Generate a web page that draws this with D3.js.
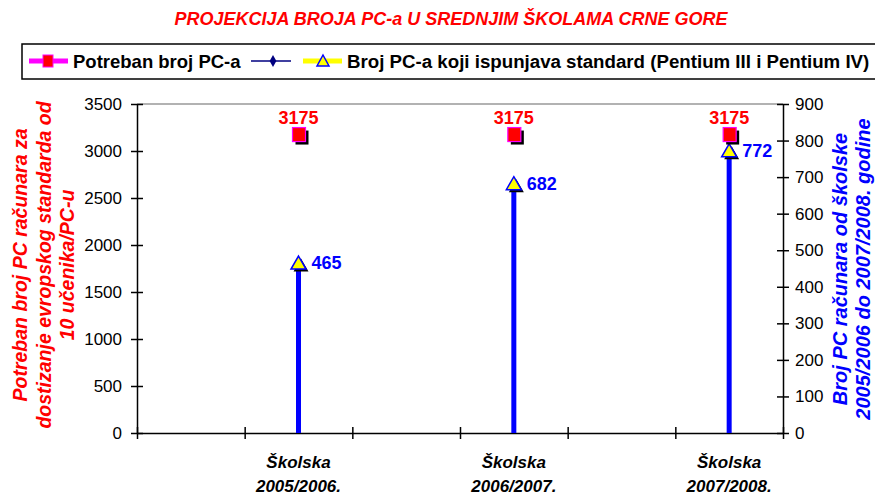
<!DOCTYPE html>
<html>
<head>
<meta charset="utf-8">
<script src="https://cdn.jsdelivr.net/npm/d3@7"></script>
<style>
  body { margin: 0; background: #fff; }
  text { font-family: "Liberation Sans", Arial, sans-serif; }
</style>
</head>
<body>
<svg id="chart" width="875" height="496"></svg>
<script>
/* Projection of PCs in Montenegrin secondary schools.
   Six slots on the category axis, only every second one holds a school year. */
const categories = ['', 'Školska 2005/2006.', '', 'Školska 2006/2007.', '', 'Školska 2007/2008.'];
const requiredPCs = [null, 3175, null, 3175, null, 3175];   // left axis
const standardPCs = [null, 465, null, 682, null, 772];      // right axis
const leftTicks = [0, 500, 1000, 1500, 2000, 2500, 3000, 3500];
const rightTicks = [0, 100, 200, 300, 400, 500, 600, 700, 800, 900];

const plot = {left: 137, right: 783, top: 104, bottom: 433};
const colors = {
    red: '#ff0000',
    magenta: '#ff00ff',
    blue: '#0000ff',
    navy: '#000080',
    yellow: '#ffff00'
};

const svg = d3.select('#chart');

const x = d3.scaleLinear().domain([0, categories.length]).range([plot.left, plot.right]);
const xMid = (i) => x(i + 0.5);
const yLeft = d3.scaleLinear().domain([0, 3500]).range([plot.bottom, plot.top]);
const yRight = d3.scaleLinear().domain([0, 900]).range([plot.bottom, plot.top]);

// title
svg.append('text')
    .attr('x', 451).attr('y', 25)
    .attr('text-anchor', 'middle')
    .attr('fill', colors.red)
    .style('font-size', '18px').style('font-weight', 'bold').style('font-style', 'italic')
    .text('PROJEKCIJA BROJA PC-a U SREDNJIM ŠKOLAMA CRNE GORE');

// legend
const legend = svg.append('g');
legend.append('rect')
    .attr('x', 22).attr('y', 44).attr('width', 870).attr('height', 35)
    .attr('fill', 'none').attr('stroke', '#000').attr('stroke-width', 1.5);
const ly = 61;
legend.append('line').attr('x1', 29).attr('x2', 68).attr('y1', ly).attr('y2', ly)
    .attr('stroke', colors.magenta).attr('stroke-width', 5);
legend.append('rect').attr('x', 43).attr('y', ly - 6).attr('width', 10).attr('height', 12)
    .attr('fill', colors.red).attr('stroke', colors.magenta).attr('stroke-width', 1);
legend.append('text').attr('x', 73).attr('y', ly + 7)
    .style('font-size', '18.5px').style('font-weight', 'bold')
    .text('Potreban broj PC-a');
legend.append('line').attr('x1', 251).attr('x2', 291).attr('y1', ly).attr('y2', ly)
    .attr('stroke', colors.navy).attr('stroke-width', 1.5);
legend.append('path').attr('d', d3.symbol(d3.symbolDiamond, 40)())
    .attr('transform', `translate(273,${ly})`).attr('fill', colors.navy);
legend.append('line').attr('x1', 303).attr('x2', 342).attr('y1', ly).attr('y2', ly)
    .attr('stroke', colors.yellow).attr('stroke-width', 5);
legend.append('path').attr('d', 'M0,-6L6,5L-6,5Z')
    .attr('transform', `translate(323,${ly})`)
    .attr('fill', colors.yellow).attr('stroke', colors.blue).attr('stroke-width', 1.5);
legend.append('text').attr('x', 347).attr('y', ly + 7)
    .style('font-size', '18.7px').style('font-weight', 'bold')
    .text('Broj PC-a koji ispunjava standard (Pentium III i Pentium IV)');

// plot frame top edge
svg.append('line')
    .attr('x1', plot.left).attr('x2', plot.right)
    .attr('y1', plot.top).attr('y2', plot.top)
    .attr('stroke', '#999').attr('stroke-width', 1.5);

function styleAxis(g, crossX) {
    g.select('.domain').attr('stroke', '#000').attr('stroke-width', 1.5);
    g.selectAll('.tick line').attr('stroke', '#000').attr('stroke-width', 1.5);
    g.selectAll('.tick text').style('font-size', '17px').attr('fill', '#000');
    if (crossX) g.selectAll('.tick line').attr('x1', -6).attr('x2', 6);
    else g.selectAll('.tick line').attr('y1', -6).attr('y2', 6);
}

const leftAxis = svg.append('g')
    .attr('transform', `translate(${plot.left},0)`)
    .call(d3.axisLeft(yLeft).tickValues(leftTicks).tickFormat(d3.format('d'))
        .tickSize(6).tickSizeOuter(0).tickPadding(9));
styleAxis(leftAxis, true);

const rightAxis = svg.append('g')
    .attr('transform', `translate(${plot.right},0)`)
    .call(d3.axisRight(yRight).tickValues(rightTicks).tickFormat(d3.format('d'))
        .tickSize(6).tickSizeOuter(0).tickPadding(6));
styleAxis(rightAxis, true);

const bottomAxis = svg.append('g')
    .attr('transform', `translate(0,${plot.bottom})`)
    .call(d3.axisBottom(x).ticks(categories.length).tickFormat('').tickSize(6).tickSizeOuter(0));
styleAxis(bottomAxis, false);

// category labels (two lines each)
categories.forEach((c, i) => {
    if (!c) return;
    const parts = c.split(' ');
    const t = svg.append('text')
        .attr('text-anchor', 'middle')
        .style('font-size', '17px').style('font-weight', 'bold').style('font-style', 'italic');
    parts.forEach((p, k) => {
        t.append('tspan').attr('x', xMid(i)).attr('y', 468 + k * 24).text(p);
    });
});

// axis titles
function axisTitle(lines, cx, cy, color, spacing, size) {
    const t = svg.append('text')
        .attr('transform', `translate(${cx},${cy}) rotate(-90)`)
        .attr('text-anchor', 'middle')
        .attr('fill', color)
        .style('font-size', size + 'px').style('font-weight', 'bold').style('font-style', 'italic');
    lines.forEach((l, k) => {
        t.append('tspan').attr('x', 0).attr('y', k * spacing).text(l);
    });
}
axisTitle(['Potreban broj PC računara za', 'dostizanje evropskog standarda od', '10 učenika/PC-u'],
    27, 265, colors.red, 23.5, 19.5);
axisTitle(['Broj PC računara od školske', '2005/2006 do 2007/2008. godine'],
    847, 269, colors.blue, 23, 20);

// standard PCs: drop lines from the baseline
const standardPts = standardPCs.map((v, i) => ({v, i})).filter(d => d.v !== null);
svg.selectAll('.drop').data(standardPts).join('line')
    .attr('class', 'drop')
    .attr('x1', d => xMid(d.i)).attr('x2', d => xMid(d.i))
    .attr('y1', plot.bottom).attr('y2', d => yRight(d.v))
    .attr('stroke', colors.blue).attr('stroke-width', 5);

const triangle = 'M0,-7L7.5,6L-7.5,6Z';
svg.selectAll('.tri-shadow').data(standardPts).join('path')
    .attr('class', 'tri-shadow')
    .attr('d', triangle)
    .attr('transform', d => `translate(${xMid(d.i) + 2.5},${yRight(d.v) + 2.5})`)
    .attr('fill', '#000');
svg.selectAll('.tri').data(standardPts).join('path')
    .attr('class', 'tri')
    .attr('d', triangle)
    .attr('transform', d => `translate(${xMid(d.i)},${yRight(d.v)})`)
    .attr('fill', colors.yellow).attr('stroke', colors.blue).attr('stroke-width', 1.5);
svg.selectAll('.tri-label').data(standardPts).join('text')
    .attr('class', 'tri-label')
    .attr('x', d => xMid(d.i) + 13).attr('y', d => yRight(d.v) + 6)
    .attr('fill', colors.blue)
    .style('font-size', '18px').style('font-weight', 'bold')
    .text(d => d.v);

// required PCs: squares
const requiredPts = requiredPCs.map((v, i) => ({v, i})).filter(d => d.v !== null);
svg.selectAll('.sq-shadow').data(requiredPts).join('rect')
    .attr('class', 'sq-shadow')
    .attr('x', d => xMid(d.i) - 6 + 3).attr('y', d => yLeft(d.v) - 7 + 3)
    .attr('width', 13).attr('height', 14)
    .attr('fill', '#000');
svg.selectAll('.sq').data(requiredPts).join('rect')
    .attr('class', 'sq')
    .attr('x', d => xMid(d.i) - 6).attr('y', d => yLeft(d.v) - 7)
    .attr('width', 13).attr('height', 14)
    .attr('fill', colors.red).attr('stroke', colors.magenta).attr('stroke-width', 1.2);
svg.selectAll('.sq-label').data(requiredPts).join('text')
    .attr('class', 'sq-label')
    .attr('x', d => xMid(d.i)).attr('y', d => yLeft(d.v) - 11)
    .attr('text-anchor', 'middle')
    .attr('fill', colors.red)
    .style('font-size', '18px').style('font-weight', 'bold')
    .text(d => d.v);
</script>
</body>
</html>
